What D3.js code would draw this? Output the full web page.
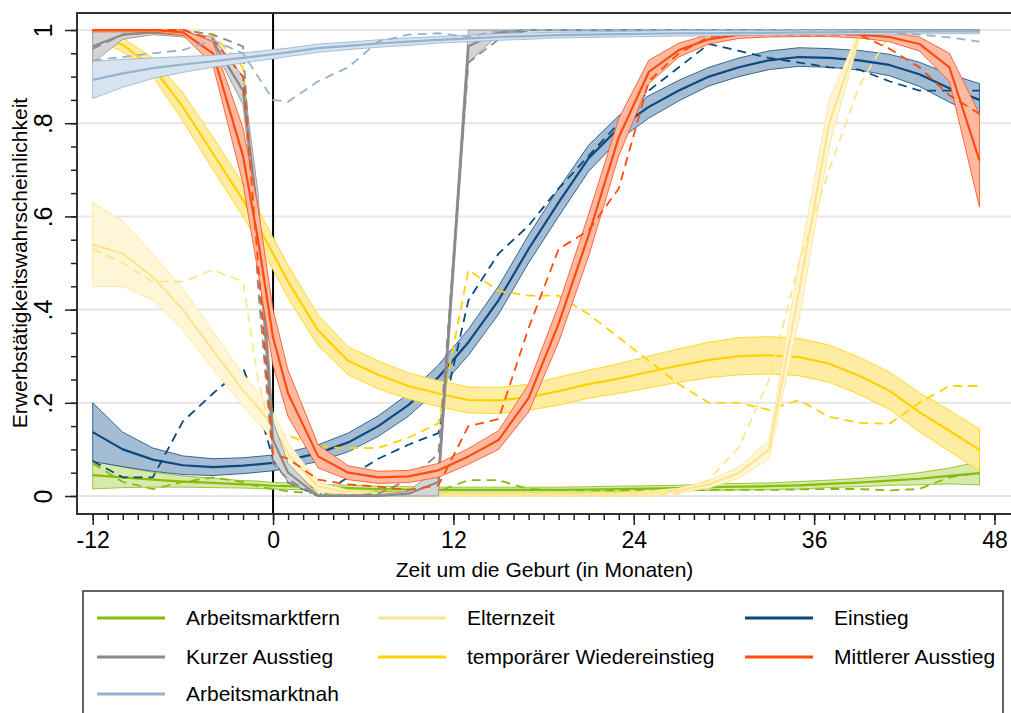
<!DOCTYPE html>
<html><head><meta charset="utf-8">
<script src="https://cdn.jsdelivr.net/npm/d3@7"></script>
<style>body{margin:0;background:#fff;} svg{display:block;font-family:"Liberation Sans",Arial,sans-serif;}</style>
</head><body><svg id="c" width="1011" height="713"></svg>
<script>
// ---- data ----
const months = [-12,-10,-8,-6,-4,-2,-1,0,1,3,5,7,9,11,13,15,17,19,21,23,25,27,29,31,33,35,37,39,41,43,45,47];
const xTicks = [-12,0,12,24,36,48];
const yTicks = [0,0.2,0.4,0.6,0.8,1];
const yTickLabels = ["0",".2",".4",".6",".8","1"];
const seriesNames = ["Arbeitsmarktfern","Kurzer Ausstieg","Arbeitsmarktnah","Elternzeit","temporärer Wiedereinstieg","Einstieg","Mittlerer Ausstieg"];

const fernMean = [.045,.04,.035,.031,.028,.025,.024,.022,.021,.019,.017,.015,.014,.013,.013,.013,.013,.013,.014,.015,.016,.017,.019,.02,.021,.023,.026,.029,.033,.037,.043,.049];
const fernCI   = [.03,.022,.016,.012,.01,.008,.008,.007,.007,.006,.006,.006,.006,.006,.006,.006,.006,.006,.006,.006,.006,.006,.007,.007,.007,.008,.008,.009,.01,.013,.017,.025];
const fernObs  = [.07,.03,.015,.03,.04,.03,.02,.015,.01,.005,.005,.01,.005,.01,.034,.034,.015,.013,.012,.012,.012,.012,.013,.013,.013,.014,.015,.015,.012,.015,.04,.05];

const kurzMean = [.965,.99,.995,.99,.975,.87,.6,.12,.05,0,0,0,.005,.03,.965,.995,1,1,1,1,1,1,1,1,1,1,1,1,1,1,1,1];
const kurzCI   = [.035,.01,.005,.005,.01,.03,.05,.04,.02,.003,.003,.003,.005,.03,.035,.005,.002,.002,.002,.002,.002,.002,.002,.002,.002,.002,.002,.002,.002,.002,.002,.002];
const kurzObs  = [.96,.99,.995,1,.99,.965,.45,.07,.035,0,0,.005,.035,.09,.93,.98,1,1,1,1,1,1,1,1,1,1,1,1,1,1,1,1];

const nahMean = [.893,.907,.918,.926,.933,.94,.944,.948,.952,.961,.966,.971,.975,.979,.982,.985,.987,.989,.99,.991,.992,.993,.993,.994,.994,.995,.995,.996,.996,.997,.997,.997];
const nahCI   = [.04,.03,.022,.017,.013,.011,.01,.01,.009,.009,.008,.008,.008,.007,.007,.007,.007,.006,.006,.006,.006,.006,.006,.005,.005,.005,.005,.005,.005,.005,.005,.005];
const nahObs  = [.935,.942,.95,.957,.978,.95,.9,.85,.846,.89,.92,.975,.99,.993,.985,.998,1,1,1,1,1,1,1,1,1,1,1,.998,.995,.99,.984,.975];

const elternMean = [.54,.52,.47,.4,.313,.227,.19,.15,.09,.02,.008,.005,.004,.004,.004,.004,.004,.004,.004,.005,.007,.012,.025,.05,.1,.44,.8,.99,.998,.999,.999,.999];
const elternCI   = [.09,.07,.05,.045,.04,.035,.033,.03,.025,.01,.005,.003,.003,.003,.003,.003,.003,.003,.003,.003,.004,.005,.008,.012,.02,.06,.05,.01,.002,.001,.001,.001];
const elternObs  = [.53,.5,.46,.46,.485,.46,.25,.12,.06,.01,0,0,0,0,0,0,0,0,0,0,0,.005,.035,.105,.25,.5,.7,.88,.99,1,1,1];

const tempMean = [.993,.968,.92,.835,.735,.635,.58,.52,.46,.355,.29,.26,.236,.22,.206,.205,.212,.225,.24,.252,.266,.28,.292,.3,.302,.298,.284,.258,.226,.18,.14,.099];
const tempCI   = [.01,.015,.02,.03,.035,.035,.035,.035,.035,.033,.03,.03,.028,.028,.028,.028,.028,.03,.03,.032,.034,.036,.038,.04,.04,.04,.04,.04,.04,.042,.044,.045];
const tempObs  = [.955,.99,1,1,.99,.92,.55,.135,.13,.105,.103,.103,.125,.156,.485,.44,.43,.43,.39,.34,.29,.24,.2,.2,.185,.206,.17,.157,.155,.2,.236,.236];

const einMean = [.137,.10,.078,.066,.062,.065,.068,.071,.077,.092,.115,.15,.195,.255,.33,.42,.53,.63,.725,.79,.835,.87,.9,.92,.935,.942,.94,.935,.925,.905,.875,.85];
const einCI   = [.063,.037,.025,.02,.018,.017,.017,.017,.017,.018,.02,.022,.024,.026,.028,.03,.03,.03,.028,.026,.024,.022,.02,.02,.02,.02,.02,.021,.023,.026,.03,.035];
const einObs  = [.075,.04,.04,.16,.22,.275,.19,.08,.03,0,.04,.08,.11,.135,.42,.52,.58,.66,.73,.8,.87,.92,.97,.955,.94,.93,.92,.915,.89,.87,.87,.87];

const mittMean = [1,1,1,.995,.95,.73,.55,.34,.22,.085,.05,.04,.042,.055,.085,.12,.21,.37,.56,.77,.91,.957,.98,.99,.992,.993,.993,.99,.985,.97,.92,.72];
const mittCI   = [.004,.004,.004,.006,.025,.06,.07,.06,.05,.025,.015,.013,.013,.015,.017,.02,.03,.04,.045,.04,.025,.015,.01,.008,.007,.007,.007,.007,.01,.015,.03,.1];
const mittObs  = [1,1,1,1,.98,.9,.5,.09,.08,.035,.025,.02,.013,.023,.15,.165,.36,.53,.57,.66,.89,.95,.985,.99,.99,.99,.99,.99,.96,.92,.86,.82];

// ---- styles ----
const styles = {
  "Arbeitsmarktfern":        {line:"#86bc0a", fill:"#d8e9ad"},
  "Kurzer Ausstieg":         {line:"#8a8a8a", fill:"#d4d4d4"},
  "Arbeitsmarktnah":         {line:"#95b3cd", fill:"#d7e3ee"},
  "Elternzeit":              {line:"#fde58e", fill:"#fef6d6"},
  "temporärer Wiedereinstieg":{line:"#ffd200", fill:"#feeca2"},
  "Einstieg":                {line:"#0c497e", fill:"#a4bdd4"},
  "Mittlerer Ausstieg":      {line:"#ff4c0c", fill:"#fdb9a1"}
};
const seriesData = {
  "Arbeitsmarktfern":[fernMean,fernCI,fernObs],
  "Kurzer Ausstieg":[kurzMean,kurzCI,kurzObs],
  "Arbeitsmarktnah":[nahMean,nahCI,nahObs],
  "Elternzeit":[elternMean,elternCI,elternObs],
  "temporärer Wiedereinstieg":[tempMean,tempCI,tempObs],
  "Einstieg":[einMean,einCI,einObs],
  "Mittlerer Ausstieg":[mittMean,mittCI,mittObs]
};
const drawOrder = ["Arbeitsmarktfern","Einstieg","temporärer Wiedereinstieg","Elternzeit","Kurzer Ausstieg","Mittlerer Ausstieg","Arbeitsmarktnah"];

// ---- chart ----
const svg = d3.select("#c");
const frame = {left:77, top:13, right:1012, bottom:514};
const x = d3.scaleLinear().domain([-12,48]).range([92.7,994.5]);
const y = d3.scaleLinear().domain([0,1]).range([496,30]);
const clamp = v => Math.max(0, Math.min(1, v));

// gridlines
svg.append("g").selectAll("line").data(yTicks).join("line")
  .attr("x1", frame.left).attr("x2", frame.right)
  .attr("y1", d=>y(d)).attr("y2", d=>y(d))
  .attr("stroke","#e6e6e6").attr("stroke-width",2);

// vertical line at birth
svg.append("line").attr("x1",x(0)).attr("x2",x(0)).attr("y1",frame.top).attr("y2",frame.bottom)
  .attr("stroke","#000").attr("stroke-width",2);

const area = d3.area().x(d=>x(d.m)).y0(d=>y(d.lo)).y1(d=>y(d.hi));
const line = d3.line().x(d=>x(d.m)).y(d=>y(d.v));
const g = svg.append("g");
drawOrder.forEach(name=>{
  const [mean,ci,obs] = seriesData[name];
  const st = styles[name];
  const band = months.map((m,i)=>({m, lo:clamp(mean[i]-ci[i]), hi:clamp(mean[i]+ci[i])}));
  g.append("path").datum(band).attr("d",area)
    .attr("fill",st.fill).attr("stroke",st.line).attr("stroke-width",0.8).attr("stroke-linejoin","round");
  g.append("path").datum(months.map((m,i)=>({m,v:mean[i]}))).attr("d",line)
    .attr("fill","none").attr("stroke",st.line).attr("stroke-width",2.2).attr("stroke-linejoin","round");
  g.append("path").datum(months.map((m,i)=>({m,v:obs[i]}))).attr("d",line)
    .attr("fill","none").attr("stroke",st.line).attr("stroke-width",1.8).attr("stroke-dasharray","9,6");
});

// frame
svg.append("path").attr("d",`M${frame.right},${frame.top}H${frame.left}V${frame.bottom}H${frame.right}`)
  .attr("fill","none").attr("stroke","#333").attr("stroke-width",2);

// x axis
const xMinor = d3.axisBottom(x).tickValues(d3.range(-12,49,1)).tickSize(6).tickFormat("");
const xMajor = d3.axisBottom(x).tickValues(xTicks).tickSize(11).tickPadding(7)
  .tickFormat(d=>d<0? "-"+Math.abs(d) : String(d));
const gxm = svg.append("g").attr("transform",`translate(0,${frame.bottom})`).call(xMinor);
const gx = svg.append("g").attr("transform",`translate(0,${frame.bottom})`).call(xMajor);
[gxm,gx].forEach(a=>{a.select(".domain").remove(); a.selectAll("line").attr("stroke","#222").attr("stroke-width",1.5);});
gx.selectAll("text").attr("font-size",23).attr("fill","#000").attr("font-family","Liberation Sans, Arial, sans-serif");

// y axis
const yMinor = d3.axisLeft(y).tickValues(d3.range(0,1.0001,0.05)).tickSize(6).tickFormat("");
const yMajor = d3.axisLeft(y).tickValues(yTicks).tickSize(12).tickFormat((d,i)=>yTickLabels[i]);
const gym = svg.append("g").attr("transform",`translate(${frame.left},0)`).call(yMinor);
const gy = svg.append("g").attr("transform",`translate(${frame.left},0)`).call(yMajor);
[gym,gy].forEach(a=>{a.select(".domain").remove(); a.selectAll("line").attr("stroke","#222").attr("stroke-width",1.5);});
gy.selectAll("text").attr("font-size",25).attr("fill","#000").attr("font-family","Liberation Sans, Arial, sans-serif")
  .attr("x",0).attr("dy",0).attr("text-anchor","middle")
  .attr("transform","translate(-32,0) rotate(-90)").attr("dominant-baseline","middle");

// axis titles
svg.append("text").attr("x",(frame.left+frame.right)/2).attr("y",577).attr("text-anchor","middle")
  .attr("font-size",21).text("Zeit um die Geburt (in Monaten)");
svg.append("text").attr("transform",`translate(27,${(y(0)+y(1))/2}) rotate(-90)`).attr("text-anchor","middle")
  .attr("font-size",21).text("Erwerbstätigkeitswahrscheinlichkeit");

// legend
const lg = svg.append("g");
lg.append("rect").attr("x",83).attr("y",591).attr("width",920).attr("height",130)
  .attr("fill","#fff").attr("stroke","#333").attr("stroke-width",1.5);
const legendItems = [
  {name:"Arbeitsmarktfern", col:0,row:0},{name:"Elternzeit",col:1,row:0},{name:"Einstieg",col:2,row:0},
  {name:"Kurzer Ausstieg",col:0,row:1},{name:"temporärer Wiedereinstieg",col:1,row:1},{name:"Mittlerer Ausstieg",col:2,row:1},
  {name:"Arbeitsmarktnah",col:0,row:2}
];
const colX = [97,378,745], rowY = [618,657,694];
legendItems.forEach(it=>{
  const lx = colX[it.col], ly = rowY[it.row];
  lg.append("line").attr("x1",lx).attr("x2",lx+68).attr("y1",ly).attr("y2",ly)
    .attr("stroke",styles[it.name].line).attr("stroke-width",3);
  lg.append("text").attr("x",lx+89).attr("y",ly).attr("dy","0.35em").attr("font-size",21).text(it.name);
});
</script></body></html>
